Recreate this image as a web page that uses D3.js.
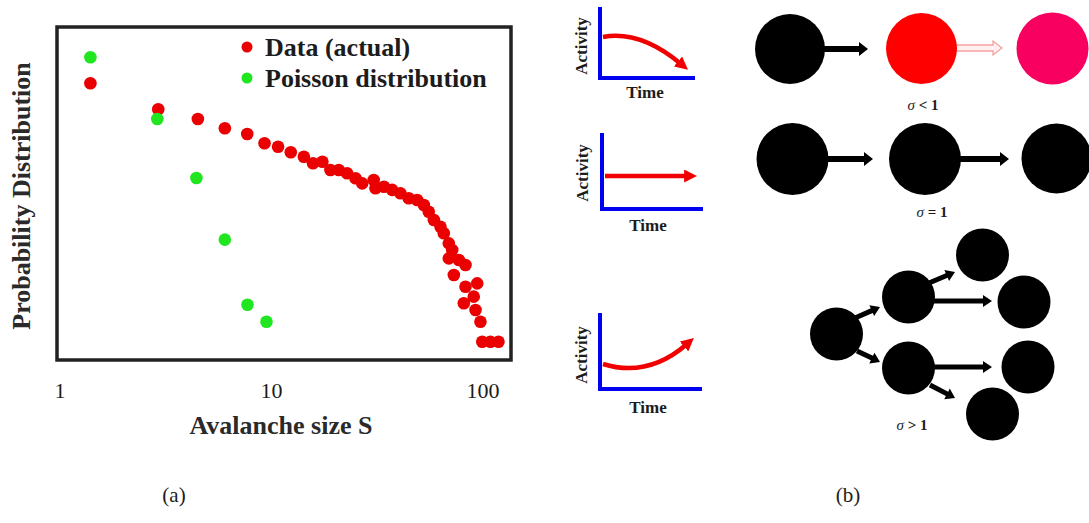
<!DOCTYPE html>
<html>
<head>
<meta charset="utf-8">
<script src="https://cdn.jsdelivr.net/npm/d3@7"></script>
<style>
  body { margin: 0; background: #fff; }
  svg { display: block; }
  text { font-family: "Liberation Serif", "Times New Roman", serif; }
</style>
</head>
<body>
<svg id="chart" width="1089" height="523"></svg>
<script>
// ---------------- DATA (panel a) ----------------
const xTicks = [1, 10, 100];
const dataS = [1.40, 2.93, 4.51, 6.05, 7.72, 9.32, 10.8, 12.4, 14.3, 15.8, 17.5, 19.1, 20.9, 22.9, 25.1, 27.0,
  30.6, 31.2, 34.2, 37.4, 40.9, 44.8, 49.1, 52.8, 55.7, 58.9, 63.3, 65.6, 69.3, 71.9, 69.3, 77.3, 83.1, 73.2,
  83.1, 94.4, 90.9, 81.6, 92.7, 97.8, 99.7, 109, 119];
const dataP = [0.0942, 0.0322, 0.0216, 0.0147, 0.0116, 0.00793, 0.00689, 0.00547, 0.00456, 0.00348, 0.00371,
  0.00264, 0.00264, 0.00230, 0.00187, 0.00152, 0.00175, 0.00124, 0.00132, 0.00116, 0.00101, 8.20e-4, 7.64e-4,
  6.22e-4, 4.72e-4, 3.35e-4, 2.54e-4, 1.94e-4, 1.28e-4, 9.73e-5, 6.90e-5, 6.44e-5, 5.24e-5, 3.47e-5, 2.14e-5,
  2.46e-5, 1.42e-5, 1.08e-5, 8.18e-6, 5.06e-6, 2.21e-6, 2.21e-6, 2.21e-6];
const poissonS = [1.40, 2.90, 4.44, 6.05, 7.74, 9.52];
const poissonP = [0.275, 0.0216, 0.00189, 1.49e-4, 1.02e-5, 5.06e-6];
const seriesNames = ["Data (actual)", "Poisson distribution"];
const seriesColors = ["#ea0000", "#1fe61f"];
const xLabel = "Avalanche size S";
const yLabel = "Probability Distribution";
const panelLabels = ["(a)", "(b)"];

// ---------------- SCHEMATIC TEXT (panel b) ----------------
const activityLabel = "Activity";
const timeLabel = "Time";
const sigmaLabels = ["σ < 1", "σ = 1", "σ > 1"];

const svg = d3.select("#chart");
const ink = "#1c1c1c";

// ---------------- PANEL (a) ----------------
const frame = { left: 57, top: 27, right: 511, bottom: 360 };
const x = d3.scaleLog().domain([1, 100]).range([59.5, 482.5]);
const y = d3.scaleLog().domain([1e-6, 1]).range([361, 26]);

svg.append("rect")
  .attr("x", frame.left).attr("y", frame.top)
  .attr("width", frame.right - frame.left).attr("height", frame.bottom - frame.top)
  .attr("fill", "none").attr("stroke", "#222").attr("stroke-width", 3.5);

const xAxis = d3.axisBottom(x).tickValues(xTicks).tickFormat(d3.format("d")).tickSize(0).tickPadding(3);
const gx = svg.append("g").attr("transform", "translate(0,379)").call(xAxis);
gx.select(".domain").remove();
gx.selectAll("text").attr("font-size", 22).attr("fill", ink)
  .style("font-family", '"Liberation Serif", "Times New Roman", serif');

svg.append("text").attr("x", 281).attr("y", 434).attr("text-anchor", "middle")
  .attr("font-size", 26).attr("font-weight", "bold").attr("fill", "#2a2a2a").text(xLabel);
svg.append("text").attr("transform", "translate(30,196) rotate(-90)").attr("text-anchor", "middle")
  .attr("font-size", 26).attr("font-weight", "bold").attr("fill", "#2a2a2a").text(yLabel);

const dataPts = dataS.map((s, i) => ({ s, p: dataP[i] }));
const poisPts = poissonS.map((s, i) => ({ s, p: poissonP[i] }));

svg.append("g").selectAll("circle").data(dataPts).join("circle")
  .attr("cx", d => x(d.s)).attr("cy", d => y(d.p)).attr("r", 6.3).attr("fill", seriesColors[0]);
svg.append("g").selectAll("circle").data(poisPts).join("circle")
  .attr("cx", d => x(d.s)).attr("cy", d => y(d.p)).attr("r", 6.3).attr("fill", seriesColors[1]);

// legend
const legend = svg.append("g");
seriesNames.forEach((name, i) => {
  const ly = 47 + i * 31;
  legend.append("circle").attr("cx", 247).attr("cy", ly).attr("r", 5.5).attr("fill", seriesColors[i]);
  legend.append("text").attr("x", 265).attr("y", ly + 9).attr("font-size", 26).attr("font-weight", "bold")
    .attr("fill", ink).text(name);
});

// panel labels
svg.append("text").attr("x", 174).attr("y", 502).attr("text-anchor", "middle").attr("font-size", 21)
  .attr("fill", ink).text(panelLabels[0]);
svg.append("text").attr("x", 848).attr("y", 502).attr("text-anchor", "middle").attr("font-size", 21)
  .attr("fill", ink).text(panelLabels[1]);

// ---------------- PANEL (b): activity sketches ----------------
const defs = svg.append("defs");
defs.append("marker").attr("id", "redHead").attr("viewBox", "0 0 10 10")
  .attr("refX", 3).attr("refY", 5).attr("markerUnits", "userSpaceOnUse")
  .attr("markerWidth", 13).attr("markerHeight", 13).attr("orient", "auto")
  .append("path").attr("d", "M0,0 L10,5 L0,10 Z").attr("fill", "#f00000");

const sketches = [
  { vx: 600, top: 7, base: 78, right: 695, curve: "M603,37 Q640,30 681,64", lx: 587, ly: 46, tx: 645, ty: 98 },
  { vx: 602, top: 133, base: 209, right: 703, curve: "M605,176 L688,176", lx: 588, ly: 173, tx: 648, ty: 231 },
  { vx: 600, top: 313, base: 389, right: 702, curve: "M603,364 Q648,378 687,344", lx: 587, ly: 355, tx: 648, ty: 413 }
];
sketches.forEach(s => {
  const g = svg.append("g");
  g.append("path").attr("d", `M${s.vx},${s.top} L${s.vx},${s.base} L${s.right},${s.base}`)
    .attr("fill", "none").attr("stroke", "#0000f0").attr("stroke-width", 4);
  g.append("path").attr("d", s.curve).attr("fill", "none").attr("stroke", "#f00000")
    .attr("stroke-width", 4.5).attr("marker-end", "url(#redHead)");
  g.append("text").attr("transform", `translate(${s.lx},${s.ly}) rotate(-90)`).attr("text-anchor", "middle")
    .attr("font-size", 17).attr("font-weight", "bold").attr("fill", ink).text(activityLabel);
  g.append("text").attr("x", s.tx).attr("y", s.ty).attr("text-anchor", "middle")
    .attr("font-size", 17).attr("font-weight", "bold").attr("fill", ink).text(timeLabel);
});

// ---------------- PANEL (b): branching diagrams ----------------
function arrowPoly(x1, y1, x2, y2, sw, hw, hl) {
  const dx = x2 - x1, dy = y2 - y1, L = Math.hypot(dx, dy);
  const ux = dx / L, uy = dy / L, px = -uy, py = ux;
  const bx = x2 - ux * hl, by = y2 - uy * hl;
  return [
    [x1 + px * sw / 2, y1 + py * sw / 2], [bx + px * sw / 2, by + py * sw / 2],
    [bx + px * hw / 2, by + py * hw / 2], [x2, y2],
    [bx - px * hw / 2, by - py * hw / 2], [bx - px * sw / 2, by - py * sw / 2],
    [x1 - px * sw / 2, y1 - py * sw / 2]
  ];
}
const lineGen = d3.line().curve(d3.curveLinearClosed);

const arrows = [
  { a: [823, 49, 868, 49], sw: 6, hw: 14, hl: 9, fill: "#000" },
  { a: [956, 48, 1002, 48], sw: 6, hw: 14, hl: 9, fill: "#fff1f1", stroke: "#f3a3a3" },
  { a: [826, 159, 873, 159], sw: 6, hw: 14, hl: 9, fill: "#000" },
  { a: [959, 159, 1009, 159], sw: 6, hw: 14, hl: 9, fill: "#000" },
  { a: [855, 318, 880, 307], sw: 5, hw: 12, hl: 9, fill: "#000" },
  { a: [857, 351, 880, 362], sw: 5, hw: 12, hl: 9, fill: "#000" },
  { a: [929, 283, 955, 272], sw: 5, hw: 12, hl: 9, fill: "#000" },
  { a: [933, 301, 992, 301], sw: 5, hw: 12, hl: 9, fill: "#000" },
  { a: [933, 367, 992, 367], sw: 5, hw: 12, hl: 9, fill: "#000" },
  { a: [930, 385, 955, 398], sw: 5, hw: 12, hl: 9, fill: "#000" }
];
const gArr = svg.append("g");
arrows.forEach(a => {
  gArr.append("path").attr("d", lineGen(arrowPoly(...a.a, a.sw, a.hw, a.hl)))
    .attr("fill", a.fill).attr("stroke", a.stroke || "none").attr("stroke-width", 1.3);
});

const nodes = [
  { cx: 790, cy: 49, r: 35, fill: "#000" },
  { cx: 921.5, cy: 48.5, r: 35.5, fill: "#ff0000" },
  { cx: 1052.5, cy: 48.5, r: 36, fill: "#f8005f" },
  { cx: 792.5, cy: 159, r: 36, fill: "#000" },
  { cx: 925, cy: 159, r: 36, fill: "#000" },
  { cx: 1056.5, cy: 158.5, r: 35, fill: "#000" },
  { cx: 836.5, cy: 334, r: 26.5, fill: "#000" },
  { cx: 908.5, cy: 297, r: 26.5, fill: "#000" },
  { cx: 908.5, cy: 368, r: 26.5, fill: "#000" },
  { cx: 982.5, cy: 255, r: 26.5, fill: "#000" },
  { cx: 1024, cy: 302, r: 26.5, fill: "#000" },
  { cx: 1028, cy: 367, r: 26.5, fill: "#000" },
  { cx: 992.5, cy: 414, r: 26.5, fill: "#000" }
];
svg.append("g").selectAll("circle").data(nodes).join("circle")
  .attr("cx", d => d.cx).attr("cy", d => d.cy).attr("r", d => d.r).attr("fill", d => d.fill);

const sigmaPos = [[923, 110], [932, 217], [912, 430]];
sigmaLabels.forEach((lab, i) => {
  const t = svg.append("text").attr("x", sigmaPos[i][0]).attr("y", sigmaPos[i][1])
    .attr("text-anchor", "middle").attr("font-size", 15).attr("fill", ink);
  t.append("tspan").attr("font-style", "italic").text(lab.slice(0, 1));
  t.append("tspan").attr("font-weight", "bold").text(lab.slice(1));
});
</script>
</body>
</html>
